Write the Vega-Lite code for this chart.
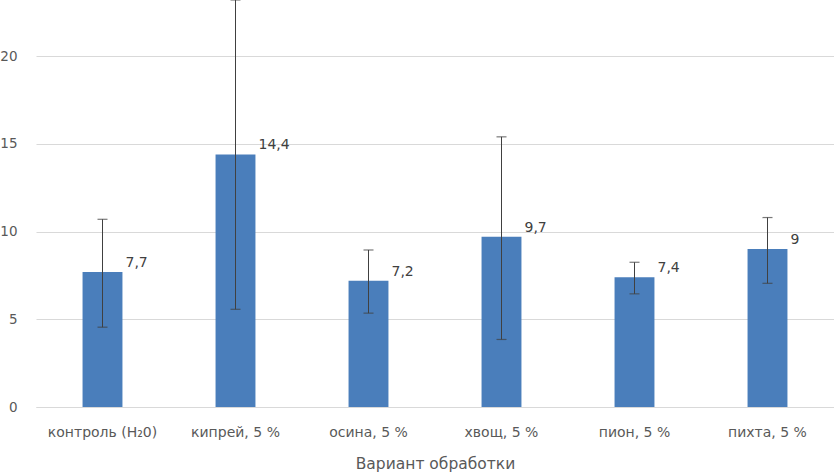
{
  "$schema": "https://vega.github.io/schema/vega-lite/v6.json",
  "autosize": {"type": "none"},
  "width": 798,
  "height": 407,
  "padding": {"left": 36, "top": 0, "right": 0, "bottom": 65},
  "background": "white",
  "config": {
    "view": {"stroke": null},
    "font": "DejaVu Sans",
    "locale": {"number": {"decimal": ",", "thousands": " ", "grouping": [3], "currency": ["", " ₽"]}}
  },
  "data": {
    "values": [
      {"variant": "контроль (H₂0)", "mean": 7.7, "lo": 4.55, "hi": 10.7},
      {"variant": "кипрей, 5 %", "mean": 14.4, "lo": 5.57, "hi": 23.2},
      {"variant": "осина, 5 %", "mean": 7.2, "lo": 5.35, "hi": 8.95},
      {"variant": "хвощ, 5 %", "mean": 9.7, "lo": 3.85, "hi": 15.4},
      {"variant": "пион, 5 %", "mean": 7.4, "lo": 6.45, "hi": 8.25},
      {"variant": "пихта, 5 %", "mean": 9, "lo": 7.05, "hi": 10.8}
    ]
  },
  "encoding": {
    "x": {
      "field": "variant",
      "type": "nominal",
      "sort": null,
      "title": "Вариант обработки",
      "scale": {"paddingInner": 0.7, "paddingOuter": 0.35},
      "axis": {
        "labelAngle": 0,
        "labelFontSize": 14,
        "labelColor": "#595959",
        "labelPadding": 18,
        "ticks": false,
        "domainColor": "#d9d9d9",
        "titleFontSize": 15.5,
        "titleFontWeight": "normal",
        "titleColor": "#595959",
        "titlePadding": 17
      }
    }
  },
  "layer": [
    {
      "mark": {"type": "bar", "color": "#4a7ebb"},
      "encoding": {
        "y": {
          "field": "mean",
          "type": "quantitative",
          "title": null,
          "scale": {"domain": [0, 23.2], "nice": false},
          "axis": {
            "values": [0, 5, 10, 15, 20],
            "domain": false,
            "ticks": false,
            "gridColor": "#d9d9d9",
            "labelFontSize": 13.5,
            "labelColor": "#595959",
            "labelPadding": 19
          }
        }
      }
    },
    {
      "mark": {"type": "rule", "color": "#404040", "strokeWidth": 1},
      "encoding": {
        "y": {"field": "lo", "type": "quantitative"},
        "y2": {"field": "hi"}
      }
    },
    {
      "mark": {"type": "tick", "color": "#404040", "size": 10, "thickness": 1.2, "orient": "horizontal"},
      "encoding": {"y": {"field": "lo", "type": "quantitative"}}
    },
    {
      "mark": {"type": "tick", "color": "#404040", "size": 10, "thickness": 1.2, "orient": "horizontal"},
      "encoding": {"y": {"field": "hi", "type": "quantitative"}}
    },
    {
      "mark": {"type": "text", "align": "left", "baseline": "middle", "dx": 23, "dy": -9, "fontSize": 14, "color": "#404040"},
      "encoding": {
        "y": {"field": "mean", "type": "quantitative"},
        "text": {"field": "mean", "type": "quantitative", "format": ".3~r"}
      }
    }
  ]
}
